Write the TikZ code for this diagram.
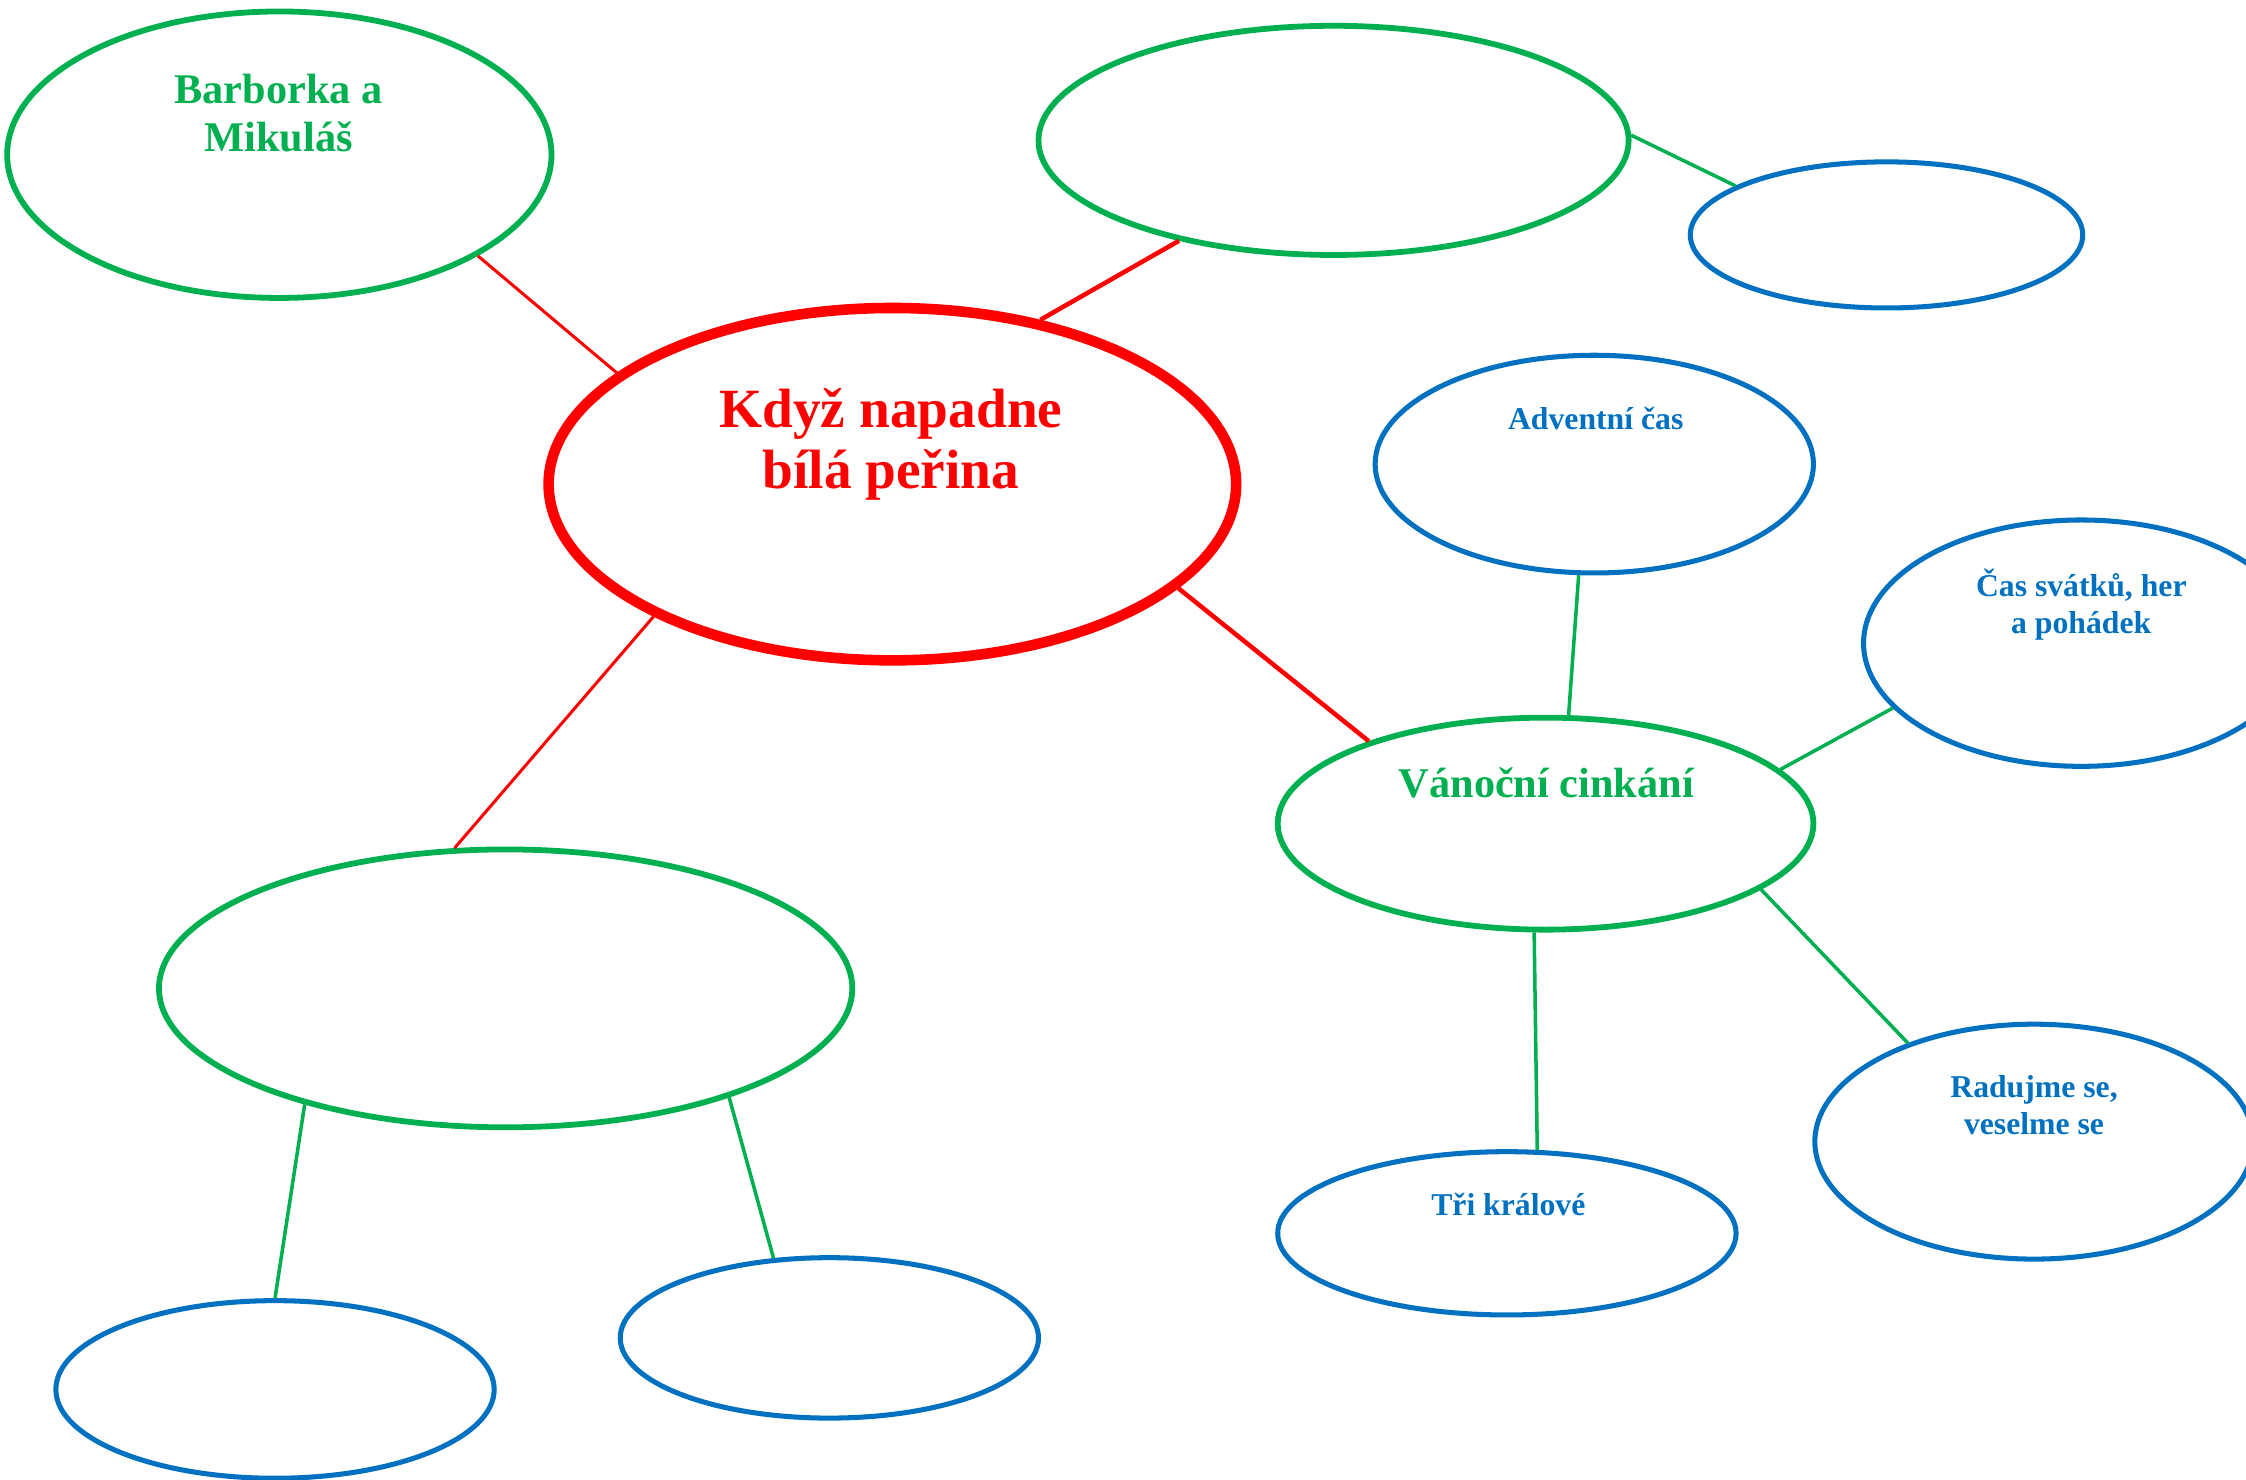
\documentclass[tikz,border=0pt]{standalone}
\usepackage{fontspec}
\setmainfont{Liberation Serif}
\usepackage{tikz}
\usetikzlibrary{shapes.geometric, positioning}

\definecolor{bubred}{HTML}{FF0000}
\definecolor{bubgreen}{HTML}{00B050}
\definecolor{bubblue}{HTML}{0070C0}

\begin{document}
\begin{tikzpicture}[
    bubble/.style={ellipse, draw, inner sep=0pt},
    mainbub/.style={bubble, draw=bubred, line width=2.1pt},
    greenbub/.style={bubble, draw=bubgreen, line width=1.15pt},
    bluebub/.style={bubble, draw=bubblue, line width=1pt},
    txt/.style={align=center, anchor=base, inner sep=0pt},
    maintxt/.style={txt, text=bubred, font=\fontsize{11}{12.2}\selectfont\bfseries},
    greentxt/.style={txt, text=bubgreen, font=\fontsize{8.4}{9.7}\selectfont\bfseries},
    bluetxt/.style={txt, text=bubblue, font=\fontsize{6.3}{7.4}\selectfont\bfseries},
    redlink/.style={draw=bubred, line width=0.6pt},
    redlinkb/.style={draw=bubred, line width=0.9pt},
    greenlink/.style={draw=bubgreen, line width=0.7pt}
]
\useasboundingbox (0,0) rectangle (15.68,-10.33);
\clip (0,0) rectangle (15.68,-10.33);

% Centre
\node[mainbub, minimum width=4.8cm, minimum height=2.46cm] (main) at (6.23,-3.38) {};
\node[maintxt] (maintext) at (6.22,-3.41) {Když napadne\\bílá peřina};

% Green bubbles
\node[greenbub, minimum width=3.8cm, minimum height=2cm] (barb) at (1.95,-1.08) {};
\node[greentxt] (barbtext) at (1.945,-1.06) {Barborka a\\Mikuláš};
\node[greenbub, minimum width=4.12cm, minimum height=1.6cm] (topmid) at (9.31,-0.98) {};
\node[greenbub, minimum width=3.74cm, minimum height=1.48cm] (xmas) at (10.79,-5.75) {};
\node[greentxt] (xmastext) at (10.795,-5.57) {Vánoční cinkání};
\node[greenbub, minimum width=4.84cm, minimum height=1.94cm] (botleft) at (3.53,-6.9) {};

% Blue bubbles
\node[bluebub, minimum width=2.74cm, minimum height=1.02cm] (topright) at (13.17,-1.64) {};
\node[bluebub, minimum width=3.06cm, minimum height=1.52cm] (advent) at (11.13,-3.24) {};
\node[bluetxt] (adventtext) at (11.14,-2.997) {Adventní čas};
\node[bluebub, minimum width=3.04cm, minimum height=1.72cm] (feast) at (14.53,-4.49) {};
\node[bluetxt] (feasttext) at (14.53,-4.425) {Čas svátků, her\\a pohádek};
\node[bluebub, minimum width=3.06cm, minimum height=1.64cm] (joy) at (14.2,-7.97) {};
\node[bluetxt] (joytext) at (14.2,-7.92) {Radujme se,\\veselme se};
\node[bluebub, minimum width=3.2cm, minimum height=1.14cm] (kings) at (10.52,-8.61) {};
\node[bluetxt] (kingstext) at (10.53,-8.488) {Tři králové};
\node[bluebub, minimum width=3.06cm, minimum height=1.24cm] (botblue) at (1.92,-9.7) {};
\node[bluebub, minimum width=2.92cm, minimum height=1.12cm] (botmid) at (5.79,-9.34) {};

% Links
\draw[redlink] (barb.-27.4) -- (main.158);
\draw[redlinkb] (topmid.-147.4) -- (main.48.4);
\draw[redlink] (main.-151) -- (botleft.110.9);
\draw[redlinkb] (main.-20.8) -- (xmas.155.8);
\draw[greenlink] (topmid.1) -- (topright.162.6);
\draw[greenlink] (advent.-98.2) -- (xmas.78.7);
\draw[greenlink] (xmas.13.8) -- (feast.-161.6);
\draw[greenlink] (xmas.-17.7) -- (joy.142.2);
\draw[greenlink] (xmas.-96.8) -- (kings.70.7);
\draw[greenlink] (botleft.-150.8) -- (botblue.90.9);
\draw[greenlink] (botleft.-26.6) -- (botmid.125.3);
\end{tikzpicture}
\end{document}
